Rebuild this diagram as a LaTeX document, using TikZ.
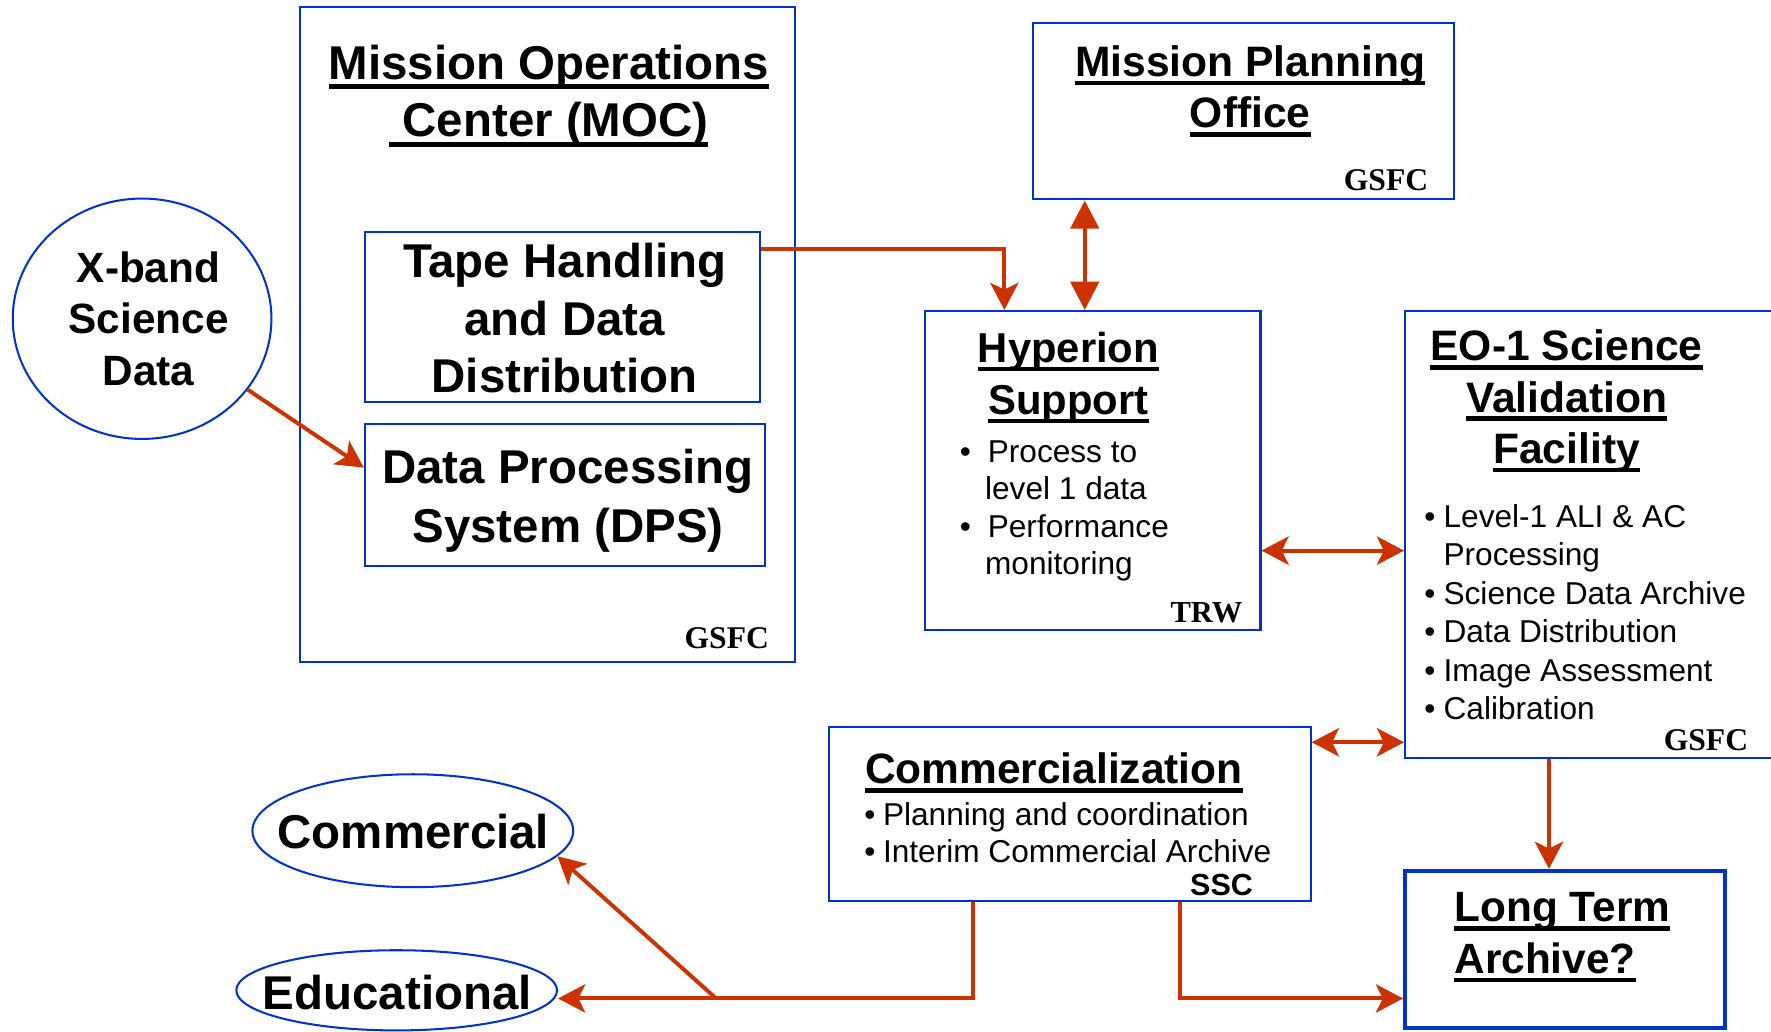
\documentclass[tikz,border=0pt]{standalone}
\usepackage{fontspec}
\setmainfont{Liberation Sans}
\newfontfamily\tms{Liberation Serif}
\usetikzlibrary{arrows.meta,shapes.geometric}
\definecolor{eoblue}{RGB}{0,51,204}
\definecolor{eored}{RGB}{204,51,0}
\newcommand\ulx[1]{\leavevmode\setbox0=\hbox{#1}\rlap{\rule[-0.21em]{\wd0}{0.11em}}\box0}
\newcommand\fst{\rule{0pt}{0.75em}}
\newcommand\ttl[2]{\fontsize{#1}{#2}\selectfont\bfseries}
\newcommand\rg[2]{\fontsize{#1}{#2}\selectfont}
\newcommand\tmb[1]{\tms\bfseries\fontsize{#1}{#1}\selectfont}
\begin{document}
\begin{tikzpicture}[x=1pt,y=-1pt,
  box/.style={draw=eoblue, line width=1.8pt, rectangle, inner sep=0pt},
  oval/.style={draw=eoblue, line width=1.8pt, ellipse, inner sep=0pt},
  txt/.style={inner sep=0pt, anchor=north, align=center},
  lbl/.style={inner sep=0pt, anchor=base east},
  sth/.tip={Stealth[length=24pt,width=25pt,inset=6pt]},
  tri/.tip={Triangle[length=25pt,width=25pt]},
  arr/.style={draw=eored, line width=3.5pt, -sth},
  darr/.style={draw=eored, line width=3.5pt, sth-sth},
  tarr/.style={draw=eored, line width=3.5pt, tri-tri}]
\useasboundingbox (0,0) rectangle (1568,913);
\clip (0,0) rectangle (1568,913);
\fill[white] (0,0) rectangle (1568,913);

% boxes and ovals
\node[box, minimum width=438pt, minimum height=580pt] (moc) at (485,296) {};
\node[box, minimum width=350pt, minimum height=151pt] (tape) at (498,280.5) {};
\node[box, minimum width=354pt, minimum height=126pt] (dps) at (500,438) {};
\node[box, minimum width=372pt, minimum height=156.3pt] (mpo) at (1101,98.45) {};
\node[box, minimum width=297pt, minimum height=282.2pt] (hyp) at (967.5,416.4) {};
\node[box, minimum width=356pt, minimum height=396pt] (eo) at (1422,473.4) {};
\node[box, minimum width=426.5pt, minimum height=154pt] (cz) at (947.25,720.4) {};
\node[box, line width=3.5pt, minimum width=283pt, minimum height=139pt] (lt) at (1385.5,840.5) {};
\node[oval, minimum width=229pt, minimum height=212.8pt] (xb) at (125.8,282.2) {};
\node[oval, minimum width=284pt, minimum height=100pt] (com) at (365.5,735.5) {};
\node[oval, minimum width=284pt, minimum height=71pt] (edu) at (351.2,876.8) {};

% texts
\node[txt, font=\ttl{42}{51}] (mocT) at (486,38.5) {\fst\ulx{Mission Operations}\\\ulx{\ Center (MOC)}};
\node[lbl, font=\tmb{28}] (mocG) at (681,574) {GSFC};
\node[txt, font=\ttl{42}{51}] (tapeT) at (500,214.2) {\fst Tape Handling\\and Data\\Distribution};
\node[txt, font=\ttl{42}{52}] (dpsT) at (503,396.5) {\fst Data Processing\\System (DPS)};
\node[txt, font=\ttl{37.5}{45.6}] (xbT) at (131.5,221.5) {\fst X-band\\Science\\Data};
\node[txt, font=\ttl{37.7}{45.5}] (mpoT) at (1107,39.2) {\fst\ulx{Mission Planning}\\\ulx{Office}};
\node[lbl, font=\tmb{28}] (mpoG) at (1264.7,169) {GSFC};
\node[txt, font=\ttl{37}{46}] (hypT) at (946,292.9) {\fst\ulx{Hyperion}\\\ulx{Support}};
\node[txt, anchor=north west, align=left, font=\rg{28}{33.3}] (hypB) at (849.6,387.9)
  {\fst\makebox[24.8pt][l]{•}Process to\\\hspace*{22.4pt}level 1 data\\\makebox[24.8pt][l]{•}Performance\\\hspace*{22.4pt}monitoring};
\node[lbl, font=\tmb{27}] (hypG) at (1100.2,551) {TRW};
\node[txt, font=\ttl{37.7}{45.4}] (eoT) at (1387,291) {\fst\ulx{EO-1 Science}\\\ulx{Validation}\\\ulx{Facility}};
\node[txt, anchor=north west, align=left, font=\rg{28}{34.1}] (eoB) at (1260.9,445.5)
  {\fst\makebox[17pt][l]{•}Level-1 ALI \& AC\\\hspace*{17pt}Processing\\\makebox[17pt][l]{•}Science Data Archive\\\makebox[17pt][l]{•}Data Distribution\\\makebox[17pt][l]{•}Image Assessment\\\makebox[17pt][l]{•}Calibration};
\node[lbl, font=\tmb{28}] (eoG) at (1547.9,664.6) {GSFC};
\node[inner sep=0pt, anchor=base, font=\ttl{37.6}{45}] (czT) at (933,694) {\ulx{Commercialization}};
\node[txt, anchor=north west, align=left, font=\rg{28}{33.4}] (czB) at (765,709.4)
  {\fst\makebox[16.6pt][l]{•}Planning and coordination\\\makebox[16.6pt][l]{•}Interim Commercial Archive};
\node[lbl, font=\ttl{27}{30}] (czS) at (1109.5,792.4) {SSC};
\node[txt, anchor=north west, align=left, font=\ttl{37.5}{45.7}] (ltT) at (1287.5,787.9) {\fst\ulx{Long Term}\\\ulx{Archive?}};
\node[inner sep=0pt, anchor=base, font=\ttl{42}{50}] (comT) at (366,751) {Commercial};
\node[inner sep=0pt, anchor=base, font=\ttl{42}{50}] (eduT) at (351.8,893.6) {Educational};

% connectors
\coordinate (jn) at (634,884);
\coordinate (edtip) at ([yshift=-7.2pt]edu.east);
\draw[arr] (xb) -- ([yshift=24pt]dps.west);
\draw[arr] ([yshift=59.7pt]tape.east) -| (hyp.north -| 889.2,0);
\draw[tarr] (mpo.south -| 960.4,0) -- (hyp.north -| 960.4,0);
\draw[darr] (hyp.east |- 0,487.5) -- (eo.west |- 0,487.5);
\draw[darr] (cz.east |- 0,657.2) -- (eo.west |- 0,657.2);
\draw[arr] (eo.south -| 1371.4,0) -- (lt.north -| 1371.4,0);
\draw[arr] (cz.south -| 1044.4,0) |- (lt.west |- 0,884);
\draw[arr] (cz.south -| 861.8,0) |- (edtip);
\draw[arr] (jn) -- (com.-10);
\end{tikzpicture}
\end{document}
